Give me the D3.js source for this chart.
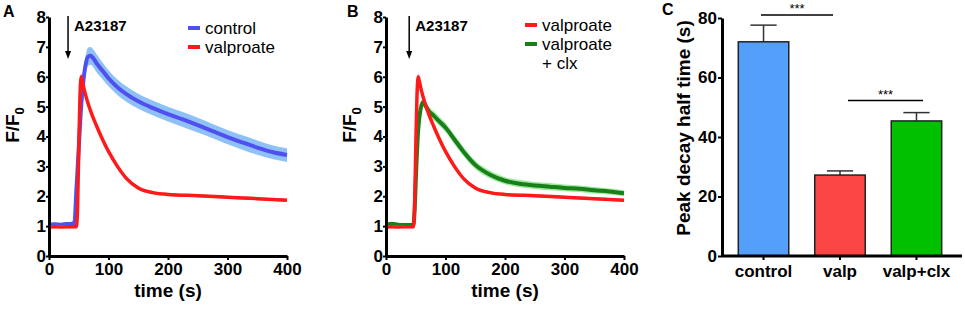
<html>
<head>
<script src="https://d3js.org/d3.v7.min.js"></script>
<style>
  body { margin: 0; background: #fff; }
  text { font-family: "Liberation Sans", Arial, sans-serif; }
  .axis path, .axis line { stroke: #000; }
  .axis path { stroke-width: 3px; }
  .axis line { stroke-width: 2px; }
  .axis text { font-weight: bold; font-size: 17px; fill: #000; }
</style>
</head>
<body>
<svg id="fig" width="965" height="309"></svg>
<script>
// time courses (s) and F/F0 values
const timeControl = [0, 10, 20, 30, 40, 43, 46, 50, 54, 58, 62, 66, 70, 75, 80, 90, 100, 115, 130, 150, 175, 200, 225, 250, 275, 300, 325, 350, 375, 400];
const controlMean = [1.05, 1.06, 1.05, 1.07, 1.08, 1.15, 2.2, 3.6, 5.0, 5.9, 6.45, 6.68, 6.7, 6.6, 6.45, 6.2, 5.95, 5.65, 5.42, 5.18, 4.95, 4.75, 4.57, 4.38, 4.18, 3.98, 3.8, 3.63, 3.48, 3.38];
const controlSem = [0.05, 0.05, 0.05, 0.05, 0.05, 0.08, 0.15, 0.2, 0.25, 0.28, 0.3, 0.3, 0.3, 0.3, 0.3, 0.28, 0.27, 0.26, 0.26, 0.25, 0.25, 0.25, 0.25, 0.25, 0.24, 0.24, 0.24, 0.24, 0.23, 0.23];

const timeValp = [0, 10, 20, 30, 40, 46, 48, 50, 52, 54, 56, 60, 65, 70, 80, 90, 100, 115, 130, 150, 175, 200, 250, 300, 350, 400];
const valpMean = [0.97, 0.98, 0.97, 0.98, 0.98, 0.98, 1.6, 3.6, 5.3, 6.0, 5.85, 5.5, 5.15, 4.85, 4.35, 3.9, 3.5, 3.0, 2.6, 2.28, 2.12, 2.06, 2.02, 1.97, 1.92, 1.87];
const valpSem = [0.05, 0.05, 0.05, 0.05, 0.05, 0.05, 0.08, 0.1, 0.12, 0.12, 0.12, 0.1, 0.1, 0.09, 0.08, 0.08, 0.07, 0.07, 0.06, 0.06, 0.05, 0.05, 0.05, 0.05, 0.05, 0.05];

const timeClx = [0, 10, 20, 30, 40, 46, 48, 51, 54, 58, 62, 66, 72, 80, 90, 100, 115, 130, 150, 175, 200, 225, 250, 275, 300, 325, 350, 375, 400];
const clxMean = [1.05, 1.08, 1.05, 1.04, 1.04, 1.04, 1.5, 3.0, 4.2, 4.9, 5.15, 5.05, 4.85, 4.7, 4.5, 4.3, 3.9, 3.5, 3.05, 2.72, 2.52, 2.42, 2.36, 2.32, 2.28, 2.25, 2.2, 2.16, 2.1];
const clxSem = [0.04, 0.04, 0.04, 0.04, 0.04, 0.04, 0.08, 0.1, 0.12, 0.14, 0.15, 0.15, 0.15, 0.15, 0.15, 0.15, 0.15, 0.15, 0.14, 0.13, 0.12, 0.12, 0.12, 0.12, 0.11, 0.11, 0.11, 0.1, 0.1];

// bar chart (panel C)
const barLabels = ["control", "valp", "valp+clx"];
const barMeans = [72, 27.2, 45.4];
const barErrs = [5.6, 1.4, 2.8];

const timeTicks = [0, 100, 200, 300, 400];
const ratioTicks = [0, 1, 2, 3, 4, 5, 6, 7, 8];
const decayTicks = [0, 20, 40, 60, 80];

const svg = d3.select("#fig");
const plotTop = 17, plotBottom = 256;

const toRows = (t, m, s) => t.map((d, i) => ({ t: d, m: m[i], s: s[i] }));
const control = toRows(timeControl, controlMean, controlSem);
const valp = toRows(timeValp, valpMean, valpSem);
const clx = toRows(timeClx, clxMean, clxSem);

function drawTrace(g, x, y, rows, lineColor, bandColor, lw) {
  g.append("path")
    .datum(rows)
    .attr("fill", bandColor)
    .attr("d", d3.area().curve(d3.curveMonotoneX)
      .x(d => x(d.t)).y0(d => y(d.m - d.s)).y1(d => y(d.m + d.s)));
  g.append("path")
    .datum(rows)
    .attr("fill", "none")
    .attr("stroke", lineColor)
    .attr("stroke-width", lw)
    .attr("d", d3.line().curve(d3.curveMonotoneX).x(d => x(d.t)).y(d => y(d.m)));
}

function tracePanel(left, letter, letterX, arrowT, traces, legend, legendY) {
  const x = d3.scaleLinear().domain([0, 400]).range([left, left + 238]);
  const y = d3.scaleLinear().domain([0, 8]).range([plotBottom, plotTop]);
  const g = svg.append("g");

  traces.forEach(tr => drawTrace(g, x, y, tr.rows, tr.line, tr.band, tr.lw));

  g.append("g").attr("class", "axis")
    .attr("transform", `translate(0,${plotBottom})`)
    .call(d3.axisBottom(x).tickValues(timeTicks).tickSize(4).tickSizeOuter(0).tickPadding(3));
  g.append("g").attr("class", "axis")
    .attr("transform", `translate(${left},0)`)
    .call(d3.axisLeft(y).tickValues(ratioTicks).tickSize(3).tickSizeOuter(0).tickPadding(0));

  g.append("text").attr("x", x(200)).attr("y", 297)
    .attr("text-anchor", "middle").attr("font-weight", "bold").attr("font-size", 19)
    .text("time (s)");

  const yl = g.append("text")
    .attr("transform", `translate(${left - 30},125) rotate(-90)`)
    .attr("text-anchor", "middle").attr("font-weight", "bold").attr("font-size", 19);
  yl.append("tspan").text("F/F");
  yl.append("tspan").attr("font-size", 13).attr("dy", 5).text("0");

  g.append("text").attr("x", letterX).attr("y", 17)
    .attr("font-weight", "bold").attr("font-size", 16).text(letter);

  // A23187 arrow
  const ax = x(arrowT);
  g.append("line").attr("x1", ax).attr("x2", ax).attr("y1", 16).attr("y2", 52)
    .attr("stroke", "#000").attr("stroke-width", 1.5);
  g.append("path").attr("d", `M${ax - 3},51 L${ax + 3},51 L${ax},59 Z`).attr("fill", "#000");
  g.append("text").attr("x", ax + 6).attr("y", 31)
    .attr("font-weight", "bold").attr("font-size", 15).text("A23187");

  legend.forEach((l, i) => {
    const ly = legendY + i * 19;
    if (l.color) {
      g.append("line").attr("x1", l.x).attr("x2", l.x + 12)
        .attr("y1", ly - 6).attr("y2", ly - 6)
        .attr("stroke", l.color).attr("stroke-width", 4);
    }
    g.append("text").attr("x", l.x + 17).attr("y", ly)
      .attr("font-size", 17).text(l.label);
  });
}

tracePanel(49, "A", 3, 32,
  [
    { rows: control, line: "#5050f0", band: "#8ec2f7", lw: 4 },
    { rows: valp, line: "#ff1a1a", band: "#ff9a9a", lw: 3.5 }
  ],
  [{ label: "control", color: "#5050f0", x: 188 }, { label: "valproate", color: "#ff1a1a", x: 188 }], 34);

tracePanel(386, "B", 347, 39,
  [
    { rows: clx, line: "#1a7f1a", band: "#98ec98", lw: 4 },
    { rows: valp, line: "#ff1a1a", band: "#ff9a9a", lw: 3.5 }
  ],
  [{ label: "valproate", color: "#ff1a1a", x: 525 }, { label: "valproate", color: "#1a7f1a", x: 525 }, { label: "+ clx", color: null, x: 525 }], 31);

// panel C: bar chart
const cLeft = 722, cRight = 962;
const xb = d3.scaleBand().domain(barLabels).range([cLeft + 1, cRight - 5]).paddingInner(0.34).paddingOuter(0.2);
const yb = d3.scaleLinear().domain([0, 80]).range([plotBottom, 18]);
const barColors = ["#559ffc", "#fb4444", "#00c000"];
const gc = svg.append("g");

const bars = barLabels.map((b, i) => ({ label: b, mean: barMeans[i], err: barErrs[i], color: barColors[i] }));

gc.selectAll("line.err").data(bars).join("line").attr("class", "err")
  .attr("x1", d => xb(d.label) + xb.bandwidth() / 2).attr("x2", d => xb(d.label) + xb.bandwidth() / 2)
  .attr("y1", d => yb(d.mean)).attr("y2", d => yb(d.mean + d.err))
  .attr("stroke", "#333").attr("stroke-width", 1.5);
gc.selectAll("line.cap").data(bars).join("line").attr("class", "cap")
  .attr("x1", d => xb(d.label) + xb.bandwidth() * 0.24).attr("x2", d => xb(d.label) + xb.bandwidth() * 0.76)
  .attr("y1", d => yb(d.mean + d.err)).attr("y2", d => yb(d.mean + d.err))
  .attr("stroke", "#333").attr("stroke-width", 1.5);
gc.selectAll("rect.bar").data(bars).join("rect").attr("class", "bar")
  .attr("x", d => xb(d.label)).attr("width", xb.bandwidth())
  .attr("y", d => yb(d.mean)).attr("height", d => plotBottom - yb(d.mean))
  .attr("fill", d => d.color).attr("stroke", "#222").attr("stroke-width", 1.5);

gc.append("g").attr("class", "axis")
  .attr("transform", `translate(0,${plotBottom})`)
  .call(d3.axisBottom(xb).tickSize(4).tickSizeOuter(0).tickPadding(5))
  .call(a => a.select(".domain").attr("d", `M${cLeft},0H${cRight}`))
  .call(a => a.selectAll("text").attr("font-size", 19));
gc.append("g").attr("class", "axis")
  .attr("transform", `translate(${cLeft},0)`)
  .call(d3.axisLeft(yb).tickValues(decayTicks).tickSize(4).tickSizeOuter(0).tickPadding(1))
  .call(a => a.selectAll("text").attr("font-size", 18));

gc.append("text")
  .attr("transform", `translate(690,128) rotate(-90)`)
  .attr("text-anchor", "middle").attr("font-weight", "bold").attr("font-size", 19)
  .text("Peak decay half time (s)");
gc.append("text").attr("x", 662).attr("y", 15)
  .attr("font-weight", "bold").attr("font-size", 16).text("C");

// significance brackets
const sig = [
  { from: "control", to: "valp", y: 15, x1: 761, x2: 833 },
  { from: "valp", to: "valp+clx", y: 100.5, x1: 848, x2: 923 }
];
sig.forEach(s => {
  gc.append("line").attr("x1", s.x1).attr("x2", s.x2).attr("y1", s.y).attr("y2", s.y)
    .attr("stroke", "#000").attr("stroke-width", 1.5);
  gc.append("text").attr("x", (s.x1 + s.x2) / 2).attr("y", s.y - 2)
    .attr("text-anchor", "middle").attr("font-size", 13).text("***");
});
</script>
</body>
</html>
